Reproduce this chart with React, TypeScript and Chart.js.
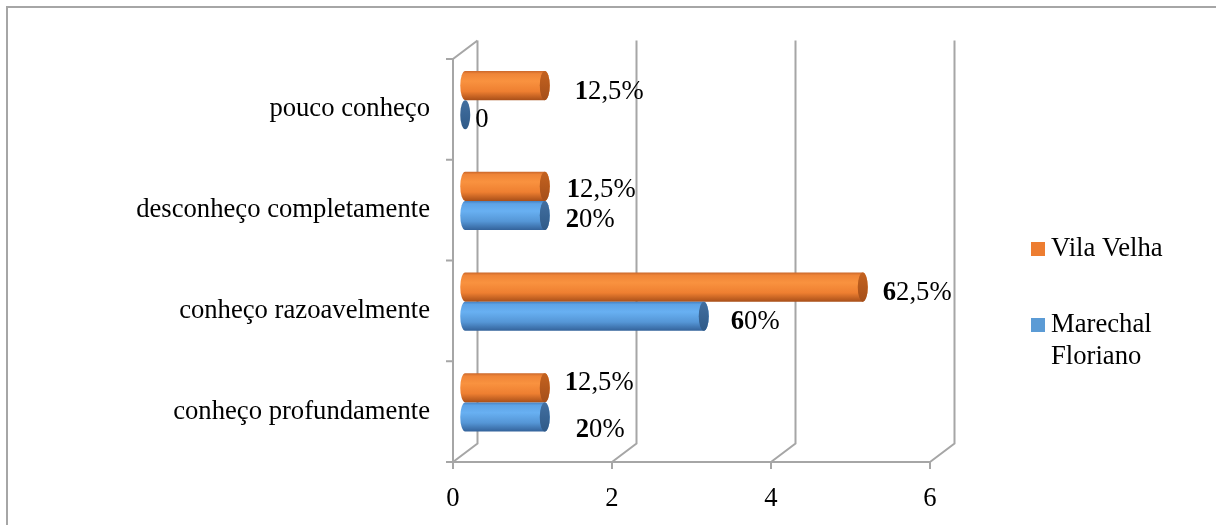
import { useEffect, useRef } from "react";
import { Chart, registerables } from "chart.js";

Chart.register(...registerables);

// ---- data ----
const categories = [
  "pouco conheço",
  "desconheço completamente",
  "conheço razoavelmente",
  "conheço profundamente",
];
const vilaVelha = [1, 1, 5, 1];
const marechalFloriano = [0, 1, 3, 1];
const seriesNames = ["Vila Velha", "Marechal Floriano"];
const xTicks = [0, 2, 4, 6];

// ---- styling ----
const FONT = '"Liberation Serif", "Times New Roman", serif';
const FONT_SIZE = 26.67;
const DEPTH_X = 24.5; // 3D depth offset of the back wall
const DEPTH_Y = -18.5;
const CAP_RX = 5;
const GRID = "#A6A6A6";

const palettes = [
  {
    legend: "#ED7D31",
    body: [
      [0, "#C9662A"],
      [0.1, "#EF8538"],
      [0.35, "#F9923F"],
      [0.7, "#EE7F31"],
      [1, "#A94F19"],
    ],
    cap: ["#C4621F", "#A54F1A"],
  },
  {
    legend: "#5B9BD5",
    body: [
      [0, "#4580C0"],
      [0.1, "#5EA3E6"],
      [0.35, "#68B0F2"],
      [0.7, "#5596D6"],
      [1, "#33629A"],
    ],
    cap: ["#426FA0", "#2F5A88"],
  },
];

// per-label placement nudges [dx from cap end, dy from bar centre]
const labelNudges = [
  [[25, 6.5], [17, 3.7], [15, 6], [15, -5]],
  [[5, 5], [16, 4.5], [22, 5.7], [26, 13]],
];

function percentLabels(values: number[]): string[] {
  const total = values.reduce((a, b) => a + b, 0);
  return values.map((v) => {
    if (v === 0) return "0";
    const pct = Math.round((v / total) * 1000) / 10;
    return String(pct).replace(".", ",") + "%";
  });
}

function drawCylinder(
  ctx: CanvasRenderingContext2D,
  x0: number,
  x1: number,
  yc: number,
  h: number,
  pal: any
) {
  const ry = h / 2;
  const top = yc - ry;
  const bot = yc + ry;
  if (x1 - x0 > 0.5) {
    const g = ctx.createLinearGradient(0, top, 0, bot);
    for (const [s, c] of pal.body) g.addColorStop(s, c);
    ctx.beginPath();
    ctx.moveTo(x1, top);
    ctx.lineTo(x0, top);
    ctx.ellipse(x0, yc, CAP_RX, ry, 0, -Math.PI / 2, Math.PI / 2, true);
    ctx.lineTo(x1, bot);
    ctx.ellipse(x1, yc, CAP_RX, ry, 0, Math.PI / 2, -Math.PI / 2, true);
    ctx.closePath();
    ctx.fillStyle = g;
    ctx.fill();
  }
  const cg = ctx.createLinearGradient(0, top, 0, bot);
  cg.addColorStop(0, pal.cap[0]);
  cg.addColorStop(1, pal.cap[1]);
  ctx.beginPath();
  ctx.ellipse(x1, yc, CAP_RX, ry, 0, 0, Math.PI * 2);
  ctx.fillStyle = cg;
  ctx.fill();
}

const framePlugin = {
  id: "frame3d",
  beforeDraw(chart: any) {
    const ctx = chart.ctx;
    ctx.save();
    ctx.strokeStyle = "#A6A6A6";
    ctx.lineWidth = 2;
    ctx.beginPath();
    ctx.moveTo(7, chart.height);
    ctx.lineTo(7, 7);
    ctx.lineTo(chart.width, 7);
    ctx.stroke();
    ctx.restore();
  },
  beforeDatasetsDraw(chart: any) {
    const ctx = chart.ctx;
    const { left, right, top, bottom } = chart.chartArea;
    const xs = chart.scales.x;
    ctx.save();
    ctx.strokeStyle = GRID;
    ctx.lineWidth = 2;
    ctx.lineCap = "butt";
    ctx.beginPath();
    // back wall verticals + floor diagonals
    for (const t of xTicks) {
      const px = xs.getPixelForValue(t);
      ctx.moveTo(px, bottom);
      ctx.lineTo(px + DEPTH_X, bottom + DEPTH_Y);
      ctx.lineTo(px + DEPTH_X, top + DEPTH_Y);
    }
    // front floor edge
    ctx.moveTo(left, bottom);
    ctx.lineTo(right, bottom);
    // left wall front edge + top diagonal
    ctx.moveTo(left, bottom);
    ctx.lineTo(left, top);
    ctx.lineTo(left + DEPTH_X, top + DEPTH_Y);
    // x tick marks
    for (const t of xTicks) {
      const px = xs.getPixelForValue(t);
      ctx.moveTo(px, bottom);
      ctx.lineTo(px, bottom + 7);
    }
    // category boundary ticks
    const n = categories.length;
    for (let i = 0; i <= n; i++) {
      const py = top + ((bottom - top) * i) / n;
      ctx.moveTo(left - 7, py);
      ctx.lineTo(left, py);
    }
    ctx.stroke();
    ctx.restore();
  },
  afterDatasetsDraw(chart: any) {
    const ctx = chart.ctx;
    ctx.save();
    const dx = DEPTH_X / 2;
    const dy = DEPTH_Y / 2;
    chart.data.datasets.forEach((ds: any, di: number) => {
      const meta = chart.getDatasetMeta(di);
      const pal = palettes[di];
      meta.data.forEach((el: any) => {
        const { x, y, base, height } = el.getProps(["x", "y", "base", "height"], true);
        drawCylinder(ctx, base + dx, x + dx, y + dy, height, pal);
      });
    });
    // value labels
    ctx.textBaseline = "middle";
    ctx.textAlign = "left";
    ctx.fillStyle = "#000";
    chart.data.datasets.forEach((ds: any, di: number) => {
      const meta = chart.getDatasetMeta(di);
      const labels = percentLabels(ds.data);
      meta.data.forEach((el: any, i: number) => {
        const { x, y } = el.getProps(["x", "y"], true);
        const [nx, ny] = labelNudges[di][i];
        const lx = x + dx + CAP_RX + nx;
        const ly = y + dy + ny;
        const txt = labels[i];
        if (txt.length > 1) {
          ctx.font = `bold ${FONT_SIZE}px ${FONT}`;
          const head = txt.slice(0, 1);
          ctx.fillText(head, lx, ly);
          const w = ctx.measureText(head).width;
          ctx.font = `${FONT_SIZE}px ${FONT}`;
          ctx.fillText(txt.slice(1), lx + w, ly);
        } else {
          ctx.font = `${FONT_SIZE}px ${FONT}`;
          ctx.fillText(txt, lx, ly);
        }
      });
    });
    ctx.restore();
  },
  afterDraw(chart: any) {
    // legend
    const ctx = chart.ctx;
    ctx.save();
    ctx.font = `${FONT_SIZE}px ${FONT}`;
    ctx.textBaseline = "middle";
    ctx.textAlign = "left";
    const sx = 1031;
    const rows = [
      { y: 249, lines: [seriesNames[0]] },
      { y: 325, lines: seriesNames[1].split(" ") },
    ];
    rows.forEach((r, i) => {
      ctx.fillStyle = palettes[i].legend;
      ctx.fillRect(sx, r.y - 7, 14, 14);
      ctx.fillStyle = "#000";
      r.lines.forEach((ln, j) => ctx.fillText(ln, sx + 20, r.y + j * 32));
    });
    ctx.restore();
  },
};

export default function App() {
  const ref = useRef<HTMLCanvasElement | null>(null);
  useEffect(() => {
    if (!ref.current) return;
    const tickFont = { family: FONT, size: FONT_SIZE };
    const chart = new Chart(ref.current, {
      type: "bar",
      data: {
        labels: categories,
        datasets: [
          {
            label: seriesNames[0],
            data: vilaVelha,
            backgroundColor: "rgba(0,0,0,0)",
            borderWidth: 0,
          },
          {
            label: seriesNames[1],
            data: marechalFloriano,
            backgroundColor: "rgba(0,0,0,0)",
            borderWidth: 0,
          },
        ],
      },
      options: {
        indexAxis: "y",
        responsive: false,
        animation: false,
        events: [],
        datasets: { bar: { categoryPercentage: 0.58, barPercentage: 1 } },
        layout: { padding: { top: 59, right: 286, bottom: 0, left: 0 } },
        plugins: { legend: { display: false }, tooltip: { enabled: false } },
        scales: {
          x: {
            type: "linear",
            min: 0,
            max: 6,
            ticks: { stepSize: 2, font: tickFont, color: "#000", padding: 21 },
            grid: { display: false, drawTicks: false },
            border: { display: false },
            afterFit: (s: any) => {
              s.height = 63;
            },
          },
          y: {
            type: "category",
            ticks: { font: tickFont, color: "#000", padding: 23, autoSkip: false },
            grid: { display: false, drawTicks: false },
            border: { display: false },
            afterFit: (s: any) => {
              s.width = 453;
            },
          },
        },
      } as any,
      plugins: [framePlugin],
    });
    return () => chart.destroy();
  }, []);
  return (
    <div style={{ position: "fixed", left: 0, top: 0, width: 1216, height: 525, background: "#fff" }}>
      <canvas ref={ref} width={1216} height={525} style={{ display: "block" }} />
    </div>
  );
}
